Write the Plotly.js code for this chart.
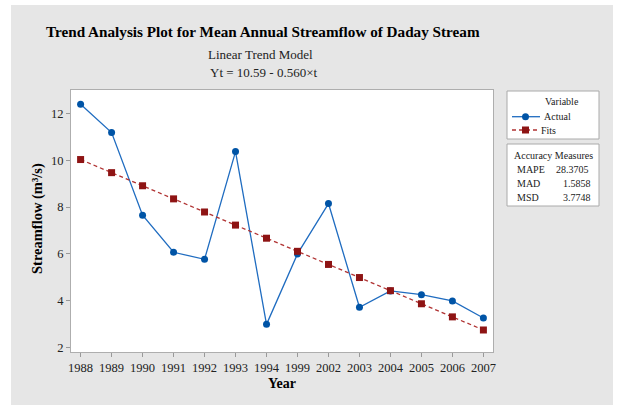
<!DOCTYPE html>
<html>
<head>
<meta charset="utf-8">
<script src="https://cdn.plot.ly/plotly-3.0.1.min.js"></script>
<style>
  html, body { margin: 0; padding: 0; background: #ffffff; width: 620px; height: 405px; overflow: hidden; }
  #chart { position: absolute; left: 11px; top: 5px; width: 602px; height: 400px; }
</style>
</head>
<body>
<div id="chart"></div>
<script>
// ---- data ----
const years = ["1988","1989","1990","1991","1992","1993","1994","1999","2002","2003","2004","2005","2006","2007"];
const actual = [12.39, 11.18, 7.65, 6.07, 5.77, 10.37, 2.99, 6.00, 8.15, 3.72, 4.42, 4.26, 3.99, 3.26];
const fits = [10.03, 9.47, 8.91, 8.35, 7.79, 7.23, 6.67, 6.11, 5.55, 4.99, 4.43, 3.87, 3.31, 2.75];
const yTicks = [2, 4, 6, 8, 10, 12];
const measureNames = ["MAPE", "MAD", "MSD"];
const measureValues = ["28.3705", "1.5858", "3.7748"];

const serif = "Liberation Serif, Times New Roman, serif";
const blueLine = "#1f6cc0";
const blueMark = "#0054a6";
const redLine = "#b03232";
const redMark = "#8e1414";

const traces = [
  {
    x: years, y: actual, type: "scatter", mode: "lines+markers", name: "Actual",
    line: { color: blueLine, width: 1.3 },
    marker: { color: blueMark, size: 7, symbol: "circle" },
    showlegend: false, cliponaxis: false
  },
  {
    x: years, y: fits, type: "scatter", mode: "lines+markers", name: "Fits",
    line: { color: redLine, width: 1.3, dash: "4px,3px" },
    marker: { color: redMark, size: 7, symbol: "square" },
    showlegend: false, cliponaxis: false
  }
];

// page x -> paper x (plot area spans page x 71..493), page y -> paper y (plot area page y 90..352)
const px = v => (v - 71) / 422;
const py = v => (352 - v) / 262;

const lg = { family: serif, size: 10, color: "#222" };
const annotations = [
  { text: "<b>Trend Analysis Plot for Mean Annual Streamflow of Daday Stream</b>", x: px(263), y: py(32),
    font: { family: serif, size: 15.2, color: "#000" } },
  { text: "Linear Trend Model", x: px(260), y: py(54), font: { family: serif, size: 13, color: "#222" } },
  { text: "Yt = 10.59 - 0.560×t", x: px(263), y: py(72.5), font: { family: serif, size: 13, color: "#222" } },
  { text: "<b>Streamflow (m³/s)</b>", x: px(37), y: py(219), textangle: -90,
    font: { family: serif, size: 14.5, color: "#000" } },
  { text: "<b>Year</b>", x: px(281.5), y: py(383.3), font: { family: serif, size: 14, color: "#000" } },
  { text: "Variable", x: px(562.3), y: py(101.7), font: lg },
  { text: "Actual", x: px(557.8), y: py(116.7), font: lg },
  { text: "Fits", x: px(548.3), y: py(130), font: lg },
  { text: "Accuracy Measures", x: px(553.3), y: py(155.7), font: lg }
].map(a => Object.assign({ xref: "paper", yref: "paper", showarrow: false, xanchor: "center", yanchor: "middle" }, a));

const rowY = [169.3, 183.3, 197.3];
const nameCx = [530.8, 528.7, 527.8];
const valCx = [572.8, 576.5, 576.5];
measureNames.forEach((n, i) => {
  annotations.push({ text: n, x: px(nameCx[i]), y: py(rowY[i]), xref: "paper", yref: "paper", showarrow: false,
    xanchor: "center", yanchor: "middle", font: lg });
  annotations.push({ text: measureValues[i], x: px(valCx[i]), y: py(rowY[i]), xref: "paper", yref: "paper", showarrow: false,
    xanchor: "center", yanchor: "middle", font: lg });
});

const shapes = [
  { type: "rect", xref: "paper", yref: "paper", x0: px(507), x1: px(599), y0: py(139), y1: py(91),
    line: { color: "#aaaaaa", width: 1 }, fillcolor: "#ffffff", layer: "below" },
  { type: "rect", xref: "paper", yref: "paper", x0: px(507), x1: px(599), y0: py(206), y1: py(144),
    line: { color: "#aaaaaa", width: 1 }, fillcolor: "#ffffff", layer: "below" },
  { type: "line", xref: "paper", yref: "paper", x0: px(512), x1: px(540), y0: py(116.7), y1: py(116.7),
    line: { color: blueLine, width: 1.3 } },
  { type: "circle", xref: "paper", yref: "paper", xsizemode: "pixel", ysizemode: "pixel",
    xanchor: px(525.5), yanchor: py(116.7), x0: -3.5, x1: 3.5, y0: -3.5, y1: 3.5,
    line: { width: 0 }, fillcolor: blueMark },
  { type: "line", xref: "paper", yref: "paper", x0: px(512), x1: px(540), y0: py(130), y1: py(130),
    line: { color: redLine, width: 1.3, dash: "4px,3px" } },
  { type: "rect", xref: "paper", yref: "paper", xsizemode: "pixel", ysizemode: "pixel",
    xanchor: px(525.5), yanchor: py(130), x0: -3.5, x1: 3.5, y0: -3.5, y1: 3.5,
    line: { width: 0 }, fillcolor: redMark }
];

const layout = {
  width: 602, height: 400,
  margin: { l: 60, r: 120, t: 85, b: 53, pad: 0 },
  paper_bgcolor: "#e6e6e6",
  plot_bgcolor: "#ffffff",
  showlegend: false,
  font: { family: serif, size: 12.5, color: "#222" },
  xaxis: {
    type: "category", range: [-0.31, 13.31], fixedrange: true,
    showgrid: false, zeroline: false,
    showline: true, mirror: true, linecolor: "#aeaeae", linewidth: 1,
    ticks: "outside", ticklen: 4, tickcolor: "#999999", tickwidth: 1,
    tickfont: { family: serif, size: 12.5, color: "#222" }
  },
  yaxis: {
    range: [1.81, 13.0], fixedrange: true,
    tickvals: yTicks, ticktext: yTicks.map(String),
    showgrid: false, zeroline: false,
    showline: true, mirror: true, linecolor: "#aeaeae", linewidth: 1,
    ticks: "outside", ticklen: 4, tickcolor: "#999999", tickwidth: 1,
    tickfont: { family: serif, size: 12.5, color: "#222" }
  },
  annotations: annotations,
  shapes: shapes
};

Plotly.newPlot("chart", traces, layout, { displayModeBar: false, staticPlot: true });
</script>
</body>
</html>
